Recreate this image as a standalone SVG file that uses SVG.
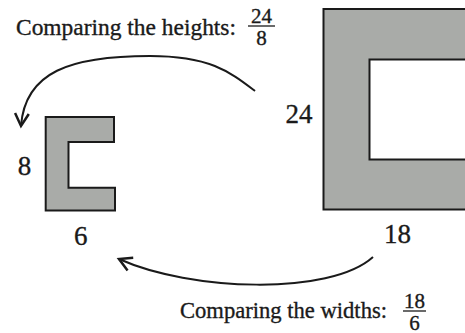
<svg xmlns="http://www.w3.org/2000/svg" width="465" height="333" viewBox="0 0 465 333">
<style>
text{font-family:"Liberation Serif","Times New Roman",serif;fill:#1a1a1a;stroke:#1a1a1a;stroke-width:0.35}
.cap{font-size:23px}
.frac{font-size:21px;text-anchor:middle}
.dim{font-size:27px;text-anchor:middle}
.shape{fill:#a9aba8;stroke:#1a1a1a;stroke-width:2}
.hole{fill:#ffffff;stroke:#1a1a1a;stroke-width:2}
.bar{stroke:#1a1a1a;stroke-width:1.3}
.conn{fill:none;stroke:#1a1a1a;stroke-width:2;marker-end:url(#ah)}
</style>
<defs>
<marker id="ah" markerUnits="userSpaceOnUse" markerWidth="20" markerHeight="20" refX="0" refY="0" viewBox="-12 -8 14 16" orient="auto" overflow="visible">
<path d="M-10,-5.5 L0,0 L-10,5.5" fill="none" stroke="#1a1a1a" stroke-width="2"/>
</marker>
</defs>
<rect width="465" height="333" fill="#ffffff"/>
<g id="large-shape">
<rect class="shape" x="323.5" y="9" width="160" height="200.5"/>
<rect class="hole" x="369.5" y="59.5" width="120" height="100"/>
<text class="dim" x="299" y="122.5">24</text>
<text class="dim" x="397.5" y="243">18</text>
</g>
<g id="small-shape">
<path class="shape" d="M45.7,117 H114 V142 H68.5 V187.7 H115 V210.5 H45.7 Z"/>
<text class="dim" x="24.5" y="175">8</text>
<text class="dim" x="80.7" y="245">6</text>
</g>
<g id="heights-label">
<text class="cap" x="16" y="35" textLength="220" lengthAdjust="spacingAndGlyphs">Comparing the heights:</text>
<text class="frac" x="261.5" y="22.5">24</text>
<line class="bar" x1="248" y1="26" x2="275" y2="26"/>
<text class="frac" x="261.5" y="44.5">8</text>
</g>
<g id="widths-label">
<text class="cap" x="180" y="318" textLength="207" lengthAdjust="spacingAndGlyphs">Comparing the widths:</text>
<text class="frac" x="414.5" y="307.5">18</text>
<line class="bar" x1="403" y1="311" x2="426" y2="311"/>
<text class="frac" x="414.5" y="329.5">6</text>
</g>
<g id="connectors">
<path class="conn" d="M255,91 C230,72 210,56 150,56 C70,56 25,72 21,126"/>
<path class="conn" d="M373,257 C330,296 190,291 119,259"/>
</g>
</svg>
